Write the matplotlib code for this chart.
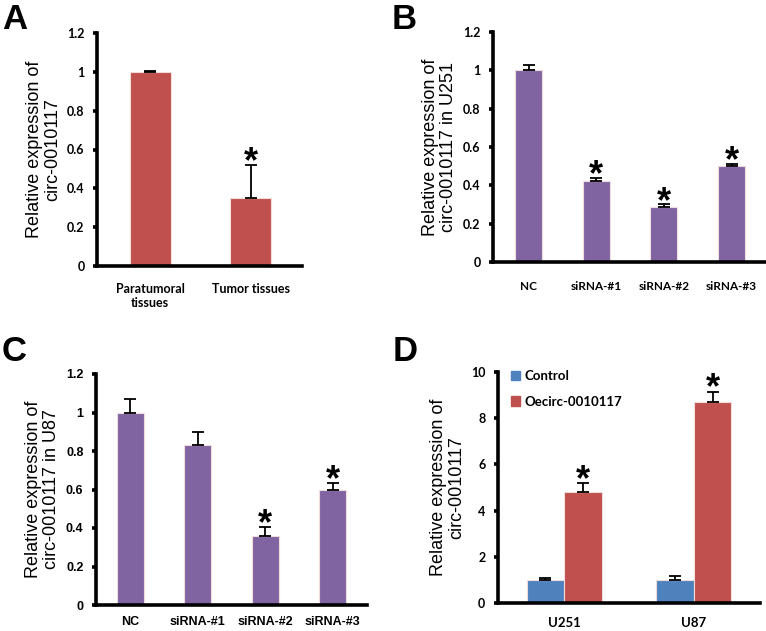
import numpy as np
import matplotlib.pyplot as plt

# panel A
a_cats = ['Paratumoral\ntissues', 'Tumor tissues']
a_vals = [1.0, 0.35]
a_err = [0.005, 0.17]
a_star = [False, True]

# panel B (U251)
b_cats = ['NC', 'siRNA-#1', 'siRNA-#2', 'siRNA-#3']
b_vals = [1.0, 0.425, 0.285, 0.5]
b_err = [0.03, 0.015, 0.015, 0.01]
b_star = [False, True, True, True]

# panel C (U87)
c_cats = ['NC', 'siRNA-#1', 'siRNA-#2', 'siRNA-#3']
c_vals = [1.0, 0.83, 0.36, 0.6]
c_err = [0.07, 0.07, 0.045, 0.035]
c_star = [False, False, True, True]

# panel D
d_cats = ['U251', 'U87']
d_ctrl = [1.0, 1.0]
d_ctrl_err = [0.1, 0.15]
d_oe = [4.8, 8.7]
d_oe_err = [0.4, 0.45]
d_names = ['Control', 'Oecirc-0010117']

RED = '#C0504D'
PURPLE = '#8064A2'
BLUE = '#4F81BD'
W, H = 766, 631

plt.rcParams['font.family'] = ['Liberation Sans', 'DejaVu Sans']
fig = plt.figure(figsize=(W / 100, H / 100), dpi=100)


def box(l, t, r, b):
    return [l / W, 1 - b / H, (r - l) / W, (b - t) / H]


def style(ax, ylim, yticks, ylabel, tickfont='Lato', xpad=12):
    for s in ['top', 'right']:
        ax.spines[s].set_visible(False)
    for s in ['left', 'bottom']:
        ax.spines[s].set_linewidth(2.6)
    ax.set_ylim(*ylim)
    ax.set_yticks(yticks)
    ax.set_yticklabels([('%g' % v) for v in yticks], fontsize=9,
                       fontweight='bold', family=tickfont)
    ax.tick_params(axis='y', length=3, width=2.6, pad=6)
    ax.tick_params(axis='x', length=0, pad=xpad)
    ax.set_ylabel(ylabel, fontsize=13, labelpad=4, linespacing=1.1)


def bars(ax, x, vals, err, color, width, star, stars_off):
    ax.bar(x, vals, width, color=color, edgecolor='#F2DCDB', linewidth=0.8, zorder=2)
    ax.errorbar(x, vals, yerr=[np.zeros(len(vals)), err], fmt='none',
                ecolor='black', elinewidth=1.3, capsize=4, capthick=1.3, zorder=3)
    for xi, v, e, s in zip(x, vals, err, star):
        if s:
            ax.text(xi, v + e - stars_off, '*', ha='center', va='bottom',
                    fontsize=26, fontweight='bold')


# A
ax = fig.add_axes(box(97, 33, 302, 266))
x = np.arange(len(a_cats))
bars(ax, x, a_vals, a_err, RED, 0.41, a_star, 0.08)
ax.set_xlim(-0.53, 1.51)
ax.set_xticks(x)
ax.set_xticklabels(a_cats, fontsize=9, fontweight='bold', family='Lato')
style(ax, (0, 1.2), np.arange(0, 1.21, 0.2).round(1),
      'Relative expression of\ncirc-0010117')

# B
ax = fig.add_axes(box(493, 32, 766, 262))
x = np.arange(len(b_cats))
bars(ax, x, b_vals, b_err, PURPLE, 0.4, b_star, 0.08)
ax.set_xlim(-0.53, 3.51)
ax.set_xticks(x)
ax.set_xticklabels(b_cats, fontsize=8.5, fontweight='bold', family='Lato')
style(ax, (0, 1.2), np.arange(0, 1.21, 0.2).round(1),
      'Relative expression of\ncirc-0010117 in U251', xpad=14)

# C
ax = fig.add_axes(box(96, 374, 367, 605))
x = np.arange(len(c_cats))
bars(ax, x, c_vals, c_err, PURPLE, 0.4, c_star, 0.08)
ax.set_xlim(-0.51, 3.51)
ax.set_xticks(x)
ax.set_xticklabels(c_cats, fontsize=9, fontweight='bold')
style(ax, (0, 1.2), np.arange(0, 1.21, 0.2).round(1),
      'Relative expression of\ncirc-0010117 in U87', tickfont='Liberation Sans',
      xpad=8)

# D
ax = fig.add_axes(box(498, 372, 760, 603))
x = np.arange(len(d_cats))
w = 0.29
bars(ax, x - w / 2, d_ctrl, d_ctrl_err, BLUE, w, [False, False], 0.6)
bars(ax, x + w / 2, d_oe, d_oe_err, RED, w, [True, True], 0.65)
ax.set_xlim(-0.51, 1.51)
ax.set_xticks(x)
ax.set_xticklabels(d_cats, fontsize=9.5, fontweight='bold', family='Lato')
style(ax, (0, 10), np.arange(0, 11, 2), 'Relative expression of\ncirc-0010117',
      xpad=10)
handles = [plt.Rectangle((0, 0), 1, 1, color=c) for c in (BLUE, RED)]
ax.legend(handles, d_names, loc='upper left', frameon=False,
          prop={'family': 'Lato', 'weight': 'bold', 'size': 9.5},
          handlelength=0.7, handleheight=0.7, handletextpad=0.3,
          labelspacing=1.0, borderaxespad=0.0, bbox_to_anchor=(0.03, 1.03))

# panel letters
for lab, px, py in [('A', 2, 3), ('B', 392, 3), ('C', 2, 335), ('D', 393, 335)]:
    fig.text(px / W, 1 - py / H, lab, fontsize=25, fontweight='bold',
             va='top', ha='left')

fig.savefig('out.png', dpi=100)
